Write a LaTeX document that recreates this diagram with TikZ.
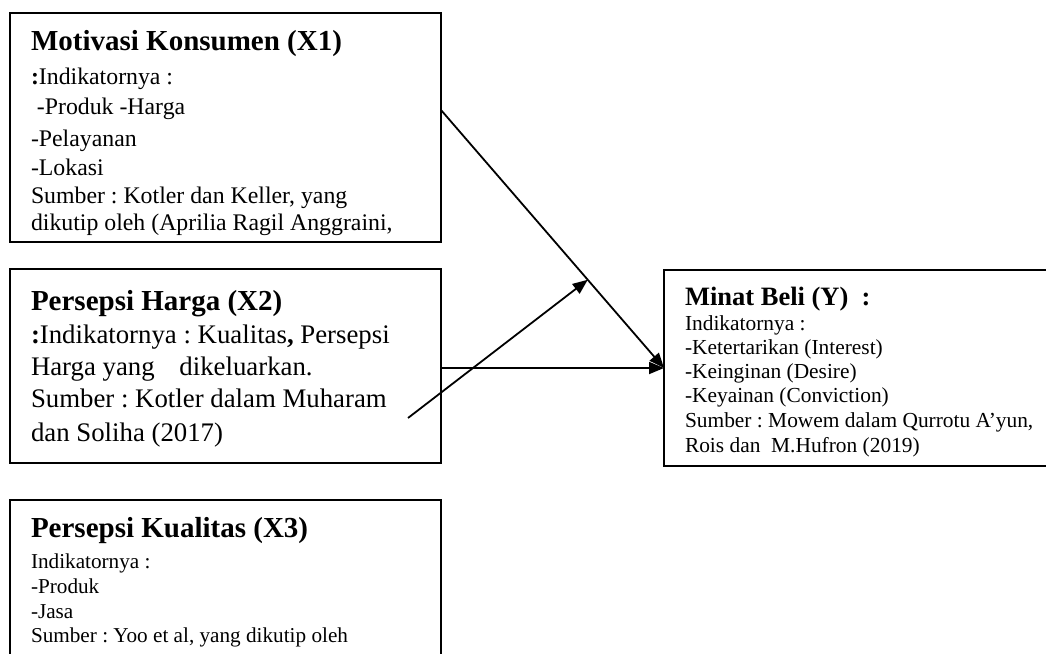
\documentclass[tikz,border=0pt]{standalone}
\usepackage{fontspec}
\setmainfont{Liberation Serif}
\usetikzlibrary{arrows.meta,calc}
\frenchspacing
\tikzset{
  frame/.style={draw, line width=2.2pt, inner sep=0pt, outer sep=0pt, anchor=north west},
  conn/.style={line width=1.8pt, -{Triangle[length=15pt,width=12pt]}},
  txt/.style={anchor=base west, inner sep=0pt, outer sep=0pt},
  ttl/.style={txt, font=\fontsize{29}{34}\selectfont\bfseries},
  ttly/.style={txt, font=\fontsize{26.5}{31}\selectfont\bfseries},
  bodya/.style={txt, font=\fontsize{23.8}{28}\selectfont},
  bodyb/.style={txt, font=\fontsize{26.8}{31}\selectfont},
  bodyc/.style={txt, font=\fontsize{21.2}{25}\selectfont},
  bodyy/.style={txt, font=\fontsize{21.4}{25}\selectfont}
}
\begin{document}
\begin{tikzpicture}[x=1pt,y=-1pt]
\useasboundingbox (0,0) rectangle (1046,653);
\clip (0,0) rectangle (1046,653);
\fill[white] (0,0) rectangle (1046,653);

% frames
\node[frame, minimum width=431pt, minimum height=229pt] (X1) at (10,13) {};
\node[frame, minimum width=431pt, minimum height=194pt] (X2) at (10,269) {};
\node[frame, minimum width=431pt, minimum height=200pt] (X3) at (10,500) {};
\node[frame, minimum width=420pt, minimum height=196pt] (Y) at (664,270) {};

% box X1 text
\node[ttl] (x1t) at (31,50) {Motivasi Konsumen (X1)};
\node[bodya] (x1a) at (31,84) {\textbf{:}Indikatornya :};
\node[bodya] (x1b) at (31,114) {\ -Produk -Harga};
\node[bodya] (x1c) at (31,146) {-Pelayanan};
\node[bodya] (x1d) at (31,175) {-Lokasi};
\node[bodya] (x1e) at (31,203) {Sumber : Kotler dan Keller, yang};
\node[bodya] (x1f) at (31,230) {dikutip oleh (Aprilia Ragil Anggraini,};

% box X2 text
\node[ttl] (x2t) at (31,310) {Persepsi Harga (X2)};
\node[bodyb] (x2a) at (31,343) {\textbf{:}Indikatornya : Kualitas\textbf{,} Persepsi};
\node[bodyb] (x2b) at (31,375) {Harga yang\hspace{18pt} dikeluarkan.};
\node[bodyb] (x2c) at (31,407) {Sumber : Kotler dalam Muharam};
\node[bodyb] (x2d) at (31,441) {dan Soliha (2017)};

% box X3 text
\node[ttl] (x3t) at (31,537) {Persepsi Kualitas (X3)};
\node[bodyc] (x3a) at (31,568) {Indikatornya :};
\node[bodyc] (x3b) at (31,593) {-Produk};
\node[bodyc] (x3c) at (31,618) {-Jasa};
\node[bodyc] (x3d) at (31,642) {Sumber : Yoo et al, yang dikutip oleh};

% box Y text
\node[ttly] (yt) at (685,305) {Minat Beli (Y)\ \ :};
\node[bodyy] (ya) at (685,330) {Indikatornya :};
\node[bodyy] (yb) at (685,354) {-Ketertarikan (Interest)};
\node[bodyy] (yc) at (685,378) {-Keinginan (Desire)};
\node[bodyy] (yd) at (685,402) {-Keyainan (Conviction)};
\node[bodyy] (ye) at (685,427) {Sumber : Mowem dalam Qurrotu A’yun,};
\node[bodyy] (yf) at (685,452) {Rois dan\ \ M.Hufron (2019)};

% connectors
\draw[conn] ($(X1.north east)+(0,97)$) -- coordinate[pos=0.658] (m) (Y.west);
\draw[conn] (X2.east |- Y.west) -- (Y.west);
\coordinate (s3) at (408,418);
\draw[conn] (s3) -- (m);
\end{tikzpicture}
\end{document}
